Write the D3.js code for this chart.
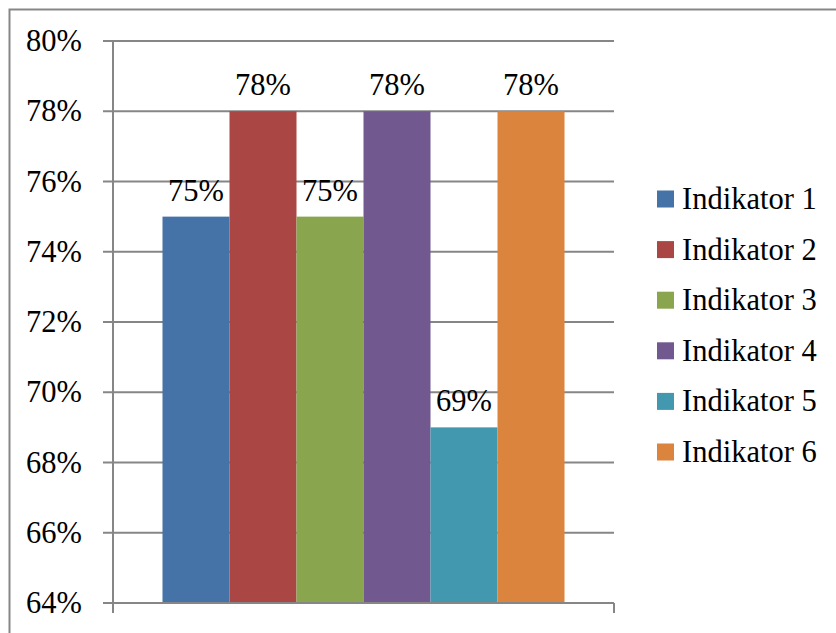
<!DOCTYPE html>
<html><head><meta charset="utf-8">
<script src="https://cdn.jsdelivr.net/npm/d3@7"></script>
<style>body{margin:0;background:#fff}</style>
</head><body>
<script>
const categories = ["Indikator 1","Indikator 2","Indikator 3","Indikator 4","Indikator 5","Indikator 6"];
const values = [0.75,0.78,0.75,0.78,0.69,0.78];
const colors = ["#4572A7","#AA4643","#89A54E","#71588F","#4198AF","#DB843D"];
const yTicks = [0.64,0.66,0.68,0.70,0.72,0.74,0.76,0.78,0.80];

(function(){
const W=836,H=633;
const svg=d3.select("body").append("svg").attr("width",W).attr("height",H)
  .style("font-family",'"Liberation Serif", serif');
const fs="30.5px";
svg.append("rect").attr("x",9.5).attr("y",9.5).attr("width",W).attr("height",H).attr("fill","#fff").attr("stroke","#878787").attr("stroke-width",2);

const pL=113,pR=614,pT=41,pB=603;
const y=d3.scaleLinear().domain([0.64,0.80]).range([pB,pT]);
const groupPad=49.5;
const x=d3.scaleBand().domain(categories).range([pL+groupPad,pR-groupPad]).padding(0);

const g=svg.append("g");
g.selectAll("line.grid").data(yTicks).join("line")
 .attr("x1",pL-10).attr("x2",pR).attr("y1",d=>y(d)).attr("y2",d=>y(d))
 .attr("stroke","#868686").attr("stroke-width",2);
g.append("line").attr("x1",pL).attr("x2",pL).attr("y1",pT).attr("y2",pB+10).attr("stroke","#868686").attr("stroke-width",2);
g.append("line").attr("x1",pR).attr("x2",pR).attr("y1",pB).attr("y2",pB+10).attr("stroke","#868686").attr("stroke-width",2);
g.selectAll("text.yl").data(yTicks).join("text")
 .attr("x",82).attr("y",d=>y(d)+10)
 .style("text-anchor","end").style("font-size",fs)
 .text(d=>d3.format(".0%")(d));
g.selectAll("rect.bar").data(categories).join("rect")
 .attr("x",d=>x(d)).attr("width",x.bandwidth())
 .attr("y",(d,i)=>y(values[i])).attr("height",(d,i)=>pB-y(values[i]))
 .attr("fill",(d,i)=>colors[i]);
g.append("line").attr("x1",pL).attr("x2",pR).attr("y1",pB).attr("y2",pB).attr("stroke","#868686").attr("stroke-width",2);
g.selectAll("text.vl").data(categories).join("text")
 .attr("x",d=>x(d)+x.bandwidth()/2).attr("y",(d,i)=>y(values[i])-16)
 .style("text-anchor","middle").style("font-size",fs)
 .text((d,i)=>d3.format(".0%")(values[i]));
const lg=svg.append("g");
const ly=d3.scalePoint().domain(categories).range([199,452]);
lg.selectAll("rect").data(categories).join("rect")
 .attr("x",657).attr("y",d=>ly(d)-8.5).attr("width",17).attr("height",17).attr("fill",(d,i)=>colors[i]);
lg.selectAll("text").data(categories).join("text")
 .attr("x",682).attr("y",d=>ly(d)+10)
 .style("font-size",fs).text(d=>d);
})();
</script>
</body></html>
